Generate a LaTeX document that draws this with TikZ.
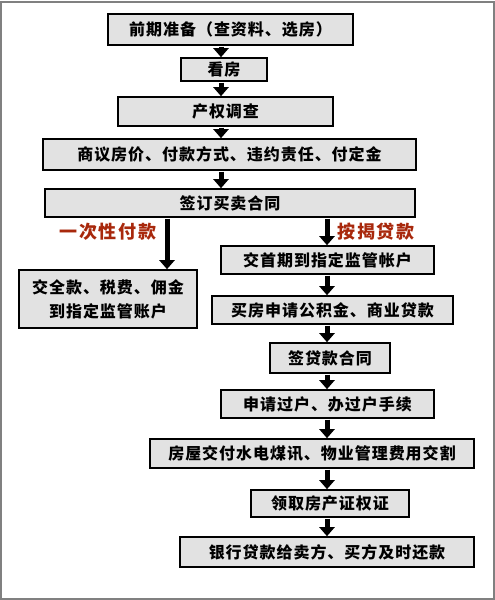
\documentclass[tikz,border=0pt]{standalone}
\usepackage{fontspec}
\setmainfont{Noto Sans CJK SC}
\usetikzlibrary{arrows.meta}
\definecolor{boxfill}{HTML}{E2E2E2}
\definecolor{lblred}{HTML}{A8280C}
\tikzset{
  stepbox/.style={draw=black,line width=1.6pt,fill=boxfill,inner sep=0pt,
    font=\bfseries\fontsize{16}{18}\selectfont\addfontfeature{LetterSpace=6},align=center},
  flow/.style={line width=5pt,-{Triangle[length=9pt,width=15pt]},shorten <=0.8pt},
  redlbl/.style={text=lblred,font=\bfseries\fontsize{18}{20}\selectfont\addfontfeature{LetterSpace=10},inner sep=0pt}
}
\begin{document}
\begin{tikzpicture}[x=1pt,y=-1pt]
\useasboundingbox (0,0) rectangle (495,600);
\draw[gray,line width=2pt] (1,2) rectangle (494,599);
\node[stepbox,minimum width=245pt,minimum height=31pt] (b1) at (230.5,29.5) {前期准备（查资料、选房）};
\node[stepbox,minimum width=86pt,minimum height=23pt] (b2) at (224,69.5) {看房};
\node[stepbox,minimum width=215pt,minimum height=29pt] (b3) at (225.5,111.5) {产权调查};
\node[stepbox,minimum width=373pt,minimum height=31pt] (b4) at (229.5,154.5) {商议房价、付款方式、违约责任、付定金};
\node[stepbox,minimum width=370pt,minimum height=28pt] (b5) at (230,203) {签订买卖合同};
\node[stepbox,minimum width=178pt,minimum height=58pt,font=\bfseries\fontsize{16}{24}\selectfont\addfontfeature{LetterSpace=6}] (lb) at (108,299) {交全款、税费、佣金\\到指定监管账户};
\node[stepbox,minimum width=213pt,minimum height=28pt] (r1) at (327.5,260) {交首期到指定监管帐户};
\node[stepbox,minimum width=241pt,minimum height=28pt] (r2) at (332.5,310) {买房申请公积金、商业贷款};
\node[stepbox,minimum width=120pt,minimum height=30pt] (r3) at (330,358) {签贷款合同};
\node[stepbox,minimum width=213pt,minimum height=28pt] (r4) at (327.5,404) {申请过户、办过户手续};
\node[stepbox,minimum width=324pt,minimum height=29pt] (r5) at (312,453.5) {房屋交付水电煤讯、物业管理费用交割};
\node[stepbox,minimum width=158pt,minimum height=27pt] (r6) at (330,503.5) {领取房产证权证};
\node[stepbox,minimum width=294pt,minimum height=30pt] (r7) at (327,552) {银行贷款给卖方、买方及时还款};
\node[redlbl] (l1) at (108,232) {一次性付款};
\node[redlbl] (l2) at (376,232) {按揭贷款};
\coordinate (ca) at (221,0);
\coordinate (la) at (167,0);
\coordinate (ra) at (327,0);
\draw[flow] (b1.south -| ca) -- (b2.north -| ca);
\draw[flow] (b2.south -| ca) -- (b3.north -| ca);
\draw[flow] (b3.south -| ca) -- (b4.north -| ca);
\draw[flow] (b4.south -| ca) -- (b5.north -| ca);
\draw[flow] (b5.south -| la) -- (lb.north -| la);
\draw[flow] (b5.south -| ra) -- (r1.north -| ra);
\draw[flow] (r1.south -| ra) -- (r2.north -| ra);
\draw[flow] (r2.south -| ra) -- (r3.north -| ra);
\draw[flow] (r3.south -| ra) -- (r4.north -| ra);
\draw[flow] (r4.south -| ra) -- (r5.north -| ra);
\draw[flow] (r5.south -| ra) -- (r6.north -| ra);
\draw[flow] (r6.south -| ra) -- (r7.north -| ra);
\end{tikzpicture}
\end{document}
